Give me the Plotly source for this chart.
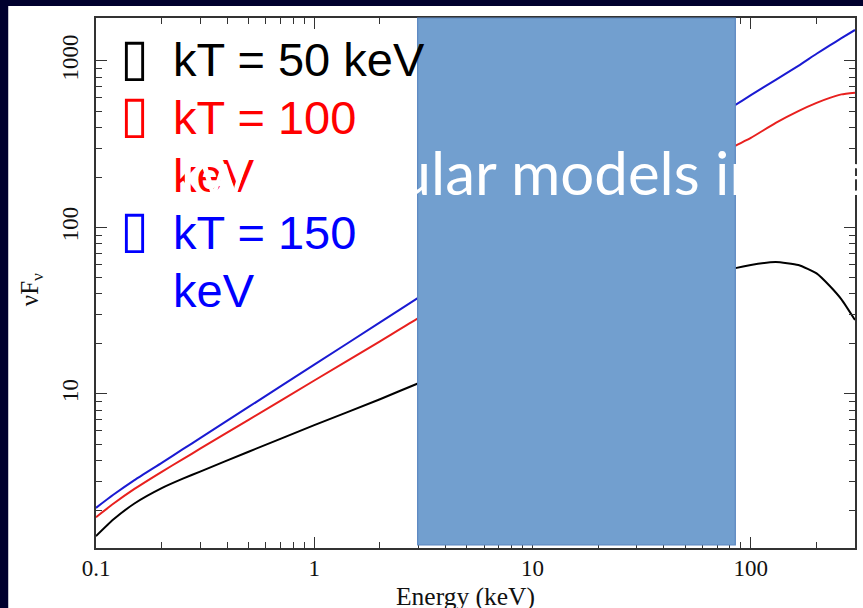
import math
import plotly.graph_objects as go

# Photon energy grid (keV) and nuFnu spectra for three electron temperatures
energy = [0.1, 0.12, 0.15, 0.2, 0.25, 0.3, 0.5, 1, 2, 3, 5, 10, 20, 40, 60, 85, 100, 130, 165, 200, 230, 260, 300]
nufnu_kt50 = [1.40, 1.76, 2.2, 2.72, 3.1, 3.42, 4.5, 6.5, 9.3, 11.6, 15, 21, 29.5, 41, 50, 57, 59.5, 62, 59.5, 53, 44.5, 37, 27.8]
nufnu_kt100 = [1.82, 2.19, 2.69, 3.41, 4.06, 4.69, 6.99, 12.05, 20.7, 28.5, 40.9, 67.4, 110.5, 181, 243, 310, 345, 425, 500, 560, 600, 630, 645]
nufnu_kt150 = [2.07, 2.48, 3.04, 3.86, 4.66, 5.43, 8.36, 15.0, 26.9, 37.9, 57.9, 100, 173, 299, 414, 545, 623, 770, 935, 1105, 1240, 1370, 1535]

series_labels = ["kT = 50 keV", "kT = 100", "keV", "kT = 150", "keV"]
line_colors = ["#000000", "#e8201e", "#1a1ad2"]
text_colors = ["#000000", "#ff0000", "#0000ff"]

x_ticks = [0.1, 1, 10, 100]
x_ticktext = ["0.1", "1", "10", "100"]
y_ticks = [10, 100, 1000]
y_ticktext = ["10", "100", "1000"]

W, H = 863, 608
L, R, T, B = 96, 857, 18, 548


def px(xp):
    return (xp - L) / (R - L)


def py(yp):
    return (B - yp) / (B - T)


fig = go.Figure()
for vals, col in zip([nufnu_kt50, nufnu_kt100, nufnu_kt150], line_colors):
    fig.add_trace(go.Scatter(
        x=energy, y=vals, mode="lines",
        line=dict(color=col, width=2, shape="spline", smoothing=0.5),
        showlegend=False, hoverinfo="skip"))

minor_x = [m * d for d in (0.1, 1, 10, 100) for m in range(2, 10) if m * d <= 300]
minor_y = [m * d for d in (1, 10, 100, 1000) for m in range(2, 10)]

serif = "Liberation Serif, Times New Roman, serif"
axis_common = dict(
    showgrid=False, zeroline=False, showline=True, linecolor="#333", linewidth=1.5,
    mirror="allticks", ticks="inside", ticklen=11, tickwidth=1.3, tickcolor="#333",
    tickfont=dict(family=serif, size=23, color="#111"),
)

fig.update_xaxes(
    type="log", range=[-1, math.log10(300)],
    tickvals=x_ticks, ticktext=x_ticktext, ticklabelstandoff=-1,
    minor=dict(ticks="inside", ticklen=6, tickwidth=1.2, tickcolor="#333", tickvals=minor_x),
    **axis_common)
fig.update_yaxes(
    type="log", range=[0.075, 3.258],
    tickvals=y_ticks, ticktext=y_ticktext, tickangle=-90, ticklabelstandoff=7,
    minor=dict(ticks="inside", ticklen=6, tickwidth=1.2, tickcolor="#333", tickvals=minor_y),
    **axis_common)

shapes = [
    # white slide panel on the dark background
    dict(type="rect", xref="paper", yref="paper", layer="below",
         x0=px(8), x1=px(W + 5), y0=py(6), y1=py(H + 5),
         fillcolor="white", line=dict(width=0)),
    # blue box laid over the middle of the spectrum
    dict(type="rect", xref="paper", yref="paper", layer="above",
         x0=px(418.5), x1=px(737), y0=py(545), y1=py(18),
         fillcolor="#729fcf", line=dict(color="#5a86c0", width=1.2)),
]

sans = "Liberation Sans, Arial, sans-serif"
annotations = []
# bullet boxes
for yc, col in [(57, text_colors[0]), (114, text_colors[1]), (229, text_colors[2])]:
    annotations.append(dict(
        text="\u25af", xref="paper", yref="paper", x=px(134.5), y=py(yc),
        xanchor="center", yanchor="middle", showarrow=False,
        font=dict(family="DejaVu Sans", size=52, color=col)))
# legend text lines
line_cols = [text_colors[0], text_colors[1], text_colors[1], text_colors[2], text_colors[2]]
for i, (txt, col) in enumerate(zip(series_labels, line_cols)):
    annotations.append(dict(
        text=txt, xref="paper", yref="paper", x=px(171), y=py(60 + 57.5 * i),
        xanchor="left", yanchor="middle", showarrow=False,
        font=dict(family=sans, size=47, color=col)))
# white slide text running across the chart
annotations.append(dict(
    text="Two popular models in use", xref="paper", yref="paper", x=px(168), y=py(172),
    xanchor="left", yanchor="middle", showarrow=False,
    font=dict(family="Lato", size=60, color="white")))
# axis titles
annotations.append(dict(
    text="Energy (keV)", xref="paper", yref="paper", x=px(466), y=py(596),
    xanchor="center", yanchor="middle", showarrow=False,
    font=dict(family=serif, size=25.5, color="#111")))
annotations.append(dict(
    text="\u03bdF<sub>\u03bd</sub>", xref="paper", yref="paper", x=px(31), y=py(290),
    xanchor="center", yanchor="middle", showarrow=False, textangle=-90,
    font=dict(family=serif, size=25, color="#111")))

fig.update_layout(
    width=W, height=H,
    margin=dict(l=L, r=W - R, t=T, b=H - B),
    paper_bgcolor="#00002e", plot_bgcolor="white",
    shapes=shapes, annotations=annotations,
)

fig.write_html("out.html")
